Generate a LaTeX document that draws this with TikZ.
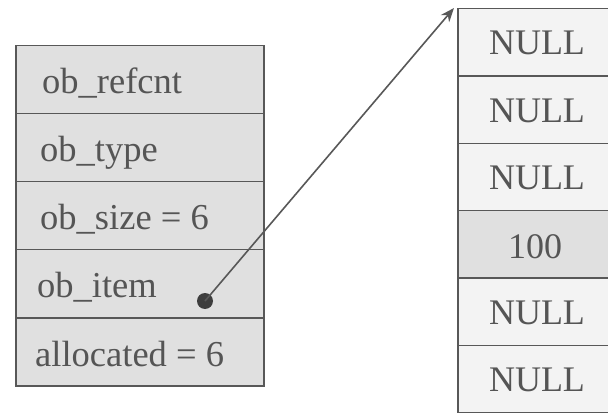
\documentclass[tikz,border=0pt]{standalone}
\usepackage{fontspec}
\setmainfont{Liberation Serif}
\usetikzlibrary{arrows.meta}
\definecolor{cellgray}{HTML}{E0E0E0}
\definecolor{celllight}{HTML}{F3F3F3}
\definecolor{linegray}{HTML}{585858}
\definecolor{textgray}{HTML}{555555}
\definecolor{dotgray}{HTML}{3E3E3E}
\tikzset{
  cell/.style={draw=linegray, line width=1.5pt, minimum width=248pt, minimum height=68pt,
    inner sep=0pt, anchor=north west, fill=cellgray},
  rcell/.style={draw=linegray, line width=1.5pt, minimum width=165pt, minimum height=67.3pt,
    inner sep=0pt, anchor=north west, fill=celllight},
  lbl/.style={anchor=base west, inner sep=0pt, font=\fontsize{36.5}{40}\selectfont, text=textgray},
  rlbl/.style={anchor=base, inner sep=0pt, font=\fontsize{36}{40}\selectfont, text=textgray},
  ptr/.style={draw=linegray, line width=1.6pt, -{Stealth[length=14pt,width=11pt]}},
}
\begin{document}
\begin{tikzpicture}[x=1pt,y=-1pt]
\useasboundingbox[fill=white] (0,0) rectangle (608,414);
\begin{scope}
\clip (0,0) rectangle (608,414);
% left object
\node[cell] (l1) at (15,45) {};
\node[cell] (l2) at (15,113) {};
\node[cell] (l3) at (15,181) {};
\node[cell] (l4) at (15,249) {};
\node[cell] (l5) at (15,317) {};
\node[lbl] (t1) at (42,94) {ob\_refcnt};
\node[lbl] (t2) at (40,162) {ob\_type};
\node[lbl] (t3) at (40,230) {ob\_size = 6};
\node[lbl] (t4) at (37,298) {ob\_item};
\node[lbl] (t5) at (35,366) {allocated = 6};
% right array
\node[rcell] (r1) at (457,8) {};
\node[rcell] (r2) at (457,75.3) {};
\node[rcell] (r3) at (457,142.6) {};
\node[rcell, fill=cellgray] (r4) at (457,209.9) {};
\node[rcell] (r5) at (457,277.2) {};
\node[rcell] (r6) at (457,344.5) {};
\node[rlbl] (n1) at (537,55) {NULL};
\node[rlbl] (n2) at (537,122.3) {NULL};
\node[rlbl] (n3) at (537,189.6) {NULL};
\node[rlbl] (n4) at (535,259) {100};
\node[rlbl] (n5) at (537,324.2) {NULL};
\node[rlbl] (n6) at (537,391.5) {NULL};
% pointer
\node[circle, fill=dotgray, minimum size=16pt, inner sep=0pt] (dot) at (205,301) {};
\draw[ptr] (dot.center) -- ([xshift=-3pt]r1.north west);
\end{scope}
\end{tikzpicture}
\end{document}
